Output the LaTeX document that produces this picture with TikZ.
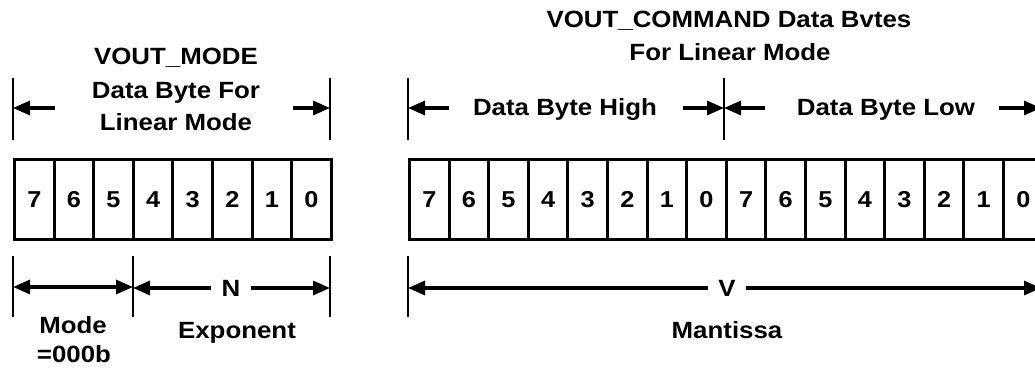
\documentclass[tikz,border=0pt]{standalone}
\usepackage{fontspec}
\setmainfont[FakeStretch=1.1]{Liberation Sans}
\usetikzlibrary{arrows.meta, calc}

\tikzset{
    lbl/.style={font=\bfseries\fontsize{23.5}{28}\selectfont, inner sep=0pt, anchor=base},
    bitcell/.style={draw, line width=3pt, minimum width=39.6pt, minimum height=80pt, inner sep=0pt, anchor=north west, font=\bfseries\fontsize{23}{26}\selectfont},
    tick/.style={line width=2.8pt},
    dim/.style={line width=3.2pt, -{Triangle[length=17pt,width=14pt]}},
    dimboth/.style={line width=3.2pt, {Triangle[length=17pt,width=14pt]}-{Triangle[length=17pt,width=14pt]}},
    gap/.style={lbl, anchor=center, inner xsep=10pt}
}

\begin{document}
\begin{tikzpicture}[x=1pt, y=-1pt]
        \useasboundingbox (0,0) rectangle (1035,367);
        % VOUT_MODE byte
        \node[lbl] (mtitle) at (176,64) {VOUT\_MODE};
        \node[lbl] (mline) at (176,98) {Data Byte For};
        \node[lbl] (mlin) at (176,130) {Linear Mode};
        \draw[tick] (13,78) coordinate (mt0) -- (13,140);
        \draw[tick] (330,78) coordinate (mt1) -- (330,140);
        \draw[dim] (55,108) -- (mt0 |- 0,108);
        \draw[dim] (293,108) -- (mt1 |- 0,108);
        \foreach \b [count=\i from 0] in {7,6,5,4,3,2,1,0}
            \node[bitcell] (m\i) at ({13+39.6*\i},158) {\b};
        \draw[tick] (13,256) coordinate (mb0) -- (13,317);
        \draw[tick] (133,256) coordinate (mb1) -- (133,317);
        \draw[tick] (330,256) coordinate (mb2) -- (330,317);
        \draw[dimboth] (mb0 |- 0,287) -- (mb1 |- 0,287);
        \node[gap] (nexp) at (231,288) {N};
        \draw[dim] (nexp.west) -- (mb1 |- nexp.west);
        \draw[dim] (nexp.east) -- (mb2 |- nexp.east);
        \node[lbl] (mode) at (73,333) {Mode};
        \node[lbl] (modev) at (74,362) {=000b};
        \node[lbl] (expo) at (237,338) {Exponent};
        % VOUT_COMMAND bytes
        \node[lbl] (ctitle) at (729,27) {VOUT\_COMMAND Data Bvtes};
        \node[lbl] (cline) at (730,60) {For Linear Mode};
        \draw[tick] (408,78) coordinate (ct0) -- (408,140);
        \draw[tick] (724,78) coordinate (ct1) -- (724,140);
        \draw[tick] (1041,78) coordinate (ct2) -- (1041,140);
        \node[lbl] (high) at (565,115) {Data Byte High};
        \node[lbl] (low) at (886,115) {Data Byte Low};
        \draw[dim] (449,108) -- (ct0 |- 0,108);
        \draw[dim] (683,108) -- (ct1 |- 0,108);
        \draw[dim] (765,108) -- (ct1 |- 0,108);
        \draw[dim] (999,108) -- (ct2 |- 0,108);
        \foreach \b [count=\i from 0] in {7,6,5,4,3,2,1,0,7,6,5,4,3,2,1,0}
            \node[bitcell] (c\i) at ({408+39.6*\i},158) {\b};
        \draw[tick] (408,256) coordinate (cb0) -- (408,317);
        \draw[tick] (1041,256) coordinate (cb1) -- (1041,317);
        \node[gap] (vman) at (727,288) {V};
        \draw[dim] (vman.west) -- (cb0 |- vman.west);
        \draw[dim] (vman.east) -- (cb1 |- vman.east);
        \node[lbl] (mant) at (727,338) {Mantissa};
\end{tikzpicture}
\end{document}
